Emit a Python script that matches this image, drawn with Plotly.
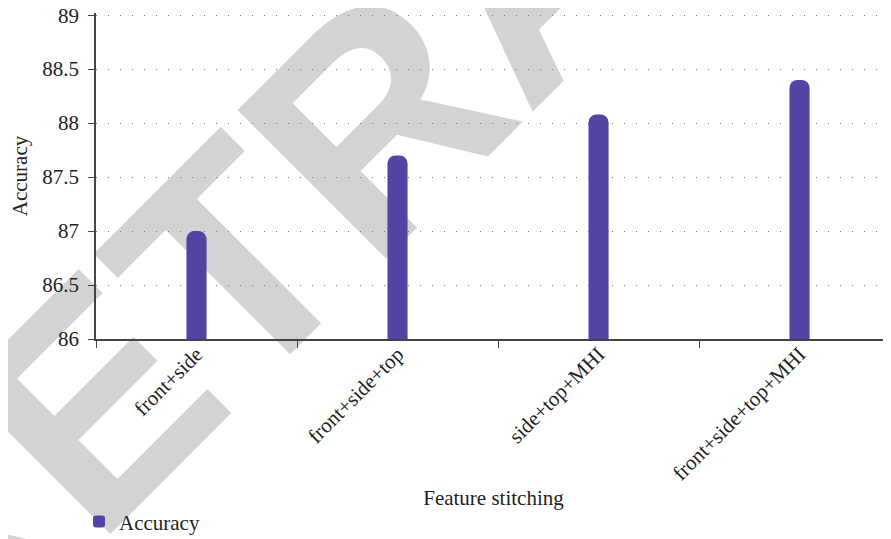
import plotly.graph_objects as go

categories = ["front+side", "front+side+top", "side+top+MHI", "front+side+top+MHI"]
accuracy = [87.0, 87.7, 88.08, 88.4]
y_ticks = [86, 86.5, 87, 87.5, 88, 88.5, 89]
y_tick_labels = ["86", "86.5", "87", "87.5", "88", "88.5", "89"]

Y_MIN, Y_MAX = 86, 89.02

# page is drawn with an 8px body margin
OFF = 8
W, H = 891 - OFF, 539 - OFF
PL, PR, PB = 96, 891, 339                  # plot area in page pixels
ppu = (339 - 15) / 3.0                     # pixels per accuracy unit
PT = PB - ppu * (Y_MAX - Y_MIN)
L, T = PL - OFF, PT - OFF
R, B = 0, H - (PB - OFF)
pw, ph = PR - PL, PB - PT

def px_to_paper(px, py):
    return (px - PL) / pw, (PB - py) / ph

serif = "Liberation Serif, Times New Roman, serif"
ink = "#231f20"
fs = 21

fig = go.Figure()
fig.add_trace(go.Bar(
    x=categories, y=accuracy, name="Accuracy",
    width=0.1, marker=dict(color="#5243a4", cornerradius=8, line=dict(width=0)),
    showlegend=True,
))

# watermark
cx, cy = px_to_paper(510, -56)
fig.add_shape(
    type="rect", xref="paper", yref="paper",
    x0=cx - 0.01, x1=cx + 0.01, y0=cy - 0.01, y1=cy + 0.01,
    line=dict(width=0), fillcolor="rgba(0,0,0,0)", layer="below",
    label=dict(text="<b>RETRACTED</b>", textangle=-45, textposition="middle center",
               font=dict(family="Liberation Sans, Arial, sans-serif", size=305, color="#d3d3d3")),
)

lx, ly = px_to_paper(79, 522)
fig.update_layout(
    width=W, height=H,
    margin=dict(l=L, r=R, t=T, b=B, autoexpand=False),
    paper_bgcolor="white", plot_bgcolor="rgba(0,0,0,0)",
    font=dict(family=serif, size=fs, color=ink),
    legend=dict(orientation="h", x=lx, xanchor="left", y=ly, yanchor="middle",
                font=dict(family=serif, size=fs, color=ink), bgcolor="rgba(0,0,0,0)"),
    xaxis=dict(
        range=[-0.5, 3.455], tickson="boundaries", ticks="outside", ticklen=7, tickwidth=1.2,
        tickcolor="#444", showline=True, linecolor="#444", linewidth=1.5, showgrid=False,
        tickangle=-45, tickfont=dict(family=serif, size=fs, color=ink), ticklabelstandoff=-7,
        title=dict(text="Feature stitching", font=dict(family=serif, size=fs, color=ink), standoff=6),
        automargin=False,
    ),
    yaxis=dict(
        range=[Y_MIN, Y_MAX], tickvals=y_ticks, ticktext=y_tick_labels, ticks="outside", ticklen=6,
        tickwidth=1.2, tickcolor="#444", showline=True, linecolor="#444", linewidth=1.5,
        showgrid=True, gridcolor="#777", gridwidth=1, griddash="1px,11px", zeroline=False,
        tickfont=dict(family=serif, size=fs, color=ink), ticklabelstandoff=5,
        ticklabeloverflow="allow",
        title=dict(text="Accuracy", font=dict(family=serif, size=fs, color=ink), standoff=15),
        automargin=False,
    ),
)

fig.write_html("out.html")
